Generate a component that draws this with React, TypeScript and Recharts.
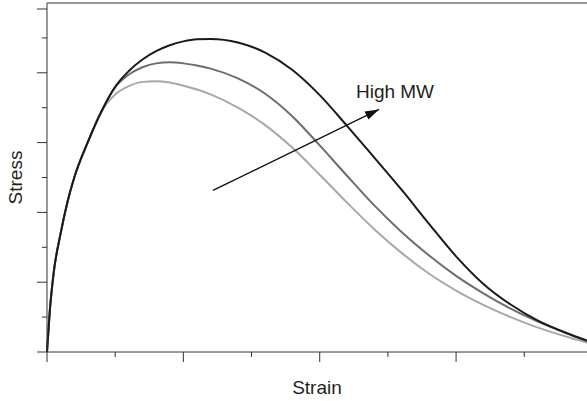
import React from "react";
import { LineChart, Line, XAxis, YAxis, ReferenceLine, ReferenceDot } from "recharts";

// strain grid shared by the three curves
const strain = [0, 0.02, 0.05, 0.1, 0.15, 0.2, 0.3, 0.4, 0.5, 0.6, 0.7, 0.8, 0.9, 1.0, 1.1, 1.2, 1.4, 1.6, 1.8, 2.0, 2.2, 2.4, 2.6, 2.8, 3.0, 3.2, 3.4, 3.6, 3.8, 3.96];

const lowMW = [0, 1.15, 2.3, 3.4, 4.3, 5.0, 6.02, 6.9, 7.38, 7.62, 7.74, 7.76, 7.72, 7.63, 7.52, 7.38, 7.0, 6.5, 5.85, 5.08, 4.28, 3.52, 2.84, 2.25, 1.76, 1.35, 1.0, 0.7, 0.45, 0.27];
const midMW = [0, 1.15, 2.3, 3.4, 4.3, 5.0, 6.02, 6.9, 7.58, 7.95, 8.16, 8.27, 8.3, 8.27, 8.21, 8.12, 7.84, 7.4, 6.75, 5.92, 5.05, 4.2, 3.44, 2.77, 2.18, 1.68, 1.24, 0.87, 0.55, 0.31];
const highMW = [0, 1.15, 2.3, 3.4, 4.3, 5.0, 6.02, 6.9, 7.6, 8.05, 8.38, 8.62, 8.79, 8.9, 8.96, 8.97, 8.87, 8.58, 8.08, 7.36, 6.48, 5.57, 4.65, 3.68, 2.74, 1.95, 1.36, 0.9, 0.56, 0.33];

const xTicks = [0, 0.5, 1, 1.5, 2, 2.5, 3, 3.5];
const yTicks = [0, 1, 2, 3, 4, 5, 6, 7, 8, 9, 10];

const arrowX = [1.217, 2.435];
const arrowY = [4.63, 6.95];

const curveData = strain.map((x, i) => ({ x, low: lowMW[i], mid: midMW[i], high: highMW[i] }));
const arrowData = arrowX.map((x, i) => ({ x, y: arrowY[i] }));

const font = "'Liberation Sans', Arial, Helvetica, sans-serif";
const ink = "#333";

const YTick = (props: any) => {
  const { x, y, payload } = props;
  const len = payload.value % 2 === 0 ? 10 : 5;
  return <line x1={x - len} x2={x} y1={y} y2={y} stroke={ink} strokeWidth={1} />;
};

const XTick = (props: any) => {
  const { x, y, payload } = props;
  const len = payload.value % 1 === 0 ? 10 : 5;
  return <line x1={x} x2={x} y1={y} y2={y + len} stroke={ink} strokeWidth={1} />;
};

const ArrowHead = (props: any) => {
  const { cx, cy, index, points } = props;
  if (index !== 1) return <g key={`ah-${index}`} />;
  let ang = Math.atan2(-79, 166);
  if (points && points.length > 1) {
    ang = Math.atan2(points[1].y - points[0].y, points[1].x - points[0].x);
  }
  const L = 14;
  const W = 4.5;
  const bx = cx - L * Math.cos(ang);
  const by = cy - L * Math.sin(ang);
  const px = -Math.sin(ang) * W;
  const py = Math.cos(ang) * W;
  return (
    <polygon
      key="ah-1"
      points={`${cx},${cy} ${bx + px},${by + py} ${bx - px},${by - py}`}
      fill="#111"
      stroke="none"
    />
  );
};

export default function App() {
  return (
    <div style={{ position: "absolute", left: 0, top: 0, width: 587, height: 401, background: "#fff" }}>
      <LineChart width={587} height={401} data={curveData} margin={{ top: 3, right: 0, bottom: 0, left: 0 }}>
        <XAxis
          dataKey="x"
          type="number"
          domain={[0, 3.96]}
          ticks={xTicks}
          height={49}
          tickSize={0}
          tickMargin={0}
          tick={<XTick />}
          axisLine={{ stroke: ink, strokeWidth: 1 }}
          label={({ viewBox }: any) => (
            <text
              x={viewBox.x + viewBox.width / 2}
              y={viewBox.y + 42}
              textAnchor="middle"
              fontFamily={font}
              fontSize={19}
              fill="#231f20"
            >
              Strain
            </text>
          )}
        />
        <YAxis
          type="number"
          domain={[0, 10]}
          ticks={yTicks}
          width={47}
          tickSize={0}
          tickMargin={0}
          tick={<YTick />}
          axisLine={{ stroke: ink, strokeWidth: 1 }}
          label={({ viewBox }: any) => {
            const cy = viewBox.y + viewBox.height / 2;
            return (
              <text
                x={22}
                y={cy}
                transform={`rotate(-90, 22, ${cy})`}
                textAnchor="middle"
                fontFamily={font}
                fontSize={19}
                fill="#231f20"
              >
                Stress
              </text>
            );
          }}
        />
        <ReferenceLine y={10} stroke={ink} strokeWidth={1} />
        <Line type="monotone" dataKey="low" stroke="#a8a8a8" strokeWidth={2} dot={false} isAnimationActive={false} />
        <Line type="monotone" dataKey="mid" stroke="#6d6d6d" strokeWidth={2} dot={false} isAnimationActive={false} />
        <Line type="monotone" dataKey="high" stroke="#1a1a1a" strokeWidth={2} dot={false} isAnimationActive={false} />
        <Line
          data={arrowData}
          dataKey="y"
          type="linear"
          stroke="#111"
          strokeWidth={1.3}
          dot={ArrowHead}
          activeDot={false}
          isAnimationActive={false}
        />
        <ReferenceDot
          x={2.552}
          y={7.29}
          r={0}
          shape={(p: any) => (
            <text x={p.cx} y={p.cy} textAnchor="middle" fontFamily={font} fontSize={19} fill="#231f20">
              High MW
            </text>
          )}
        />
      </LineChart>
    </div>
  );
}
